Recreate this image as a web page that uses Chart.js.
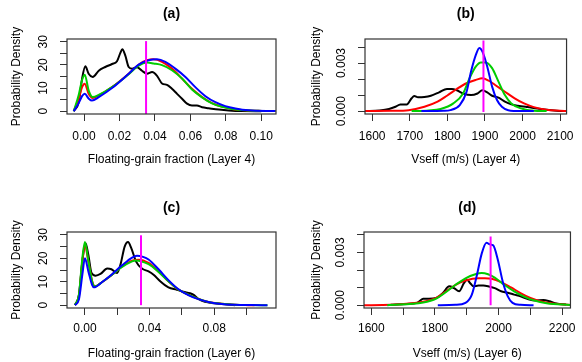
<!DOCTYPE html>
<html>
<head>
<meta charset="utf-8">
<script src="https://cdn.jsdelivr.net/npm/chart.js@4.4.0/dist/chart.umd.min.js"></script>
<style>
body { margin: 0; background: #fff; }
#wrap { position: relative; width: 582px; height: 362px; overflow: hidden; }
#wrap canvas { position: absolute; }
</style>
</head>
<body>
<div id="wrap">
  <canvas id="pa" width="291" height="181" style="left:0;top:0"></canvas>
  <canvas id="pb" width="291" height="181" style="left:291px;top:0"></canvas>
  <canvas id="pc" width="291" height="181" style="left:0;top:181px"></canvas>
  <canvas id="pd" width="291" height="181" style="left:291px;top:181px"></canvas>
</div>
<script>
// ---- data: [x, density] ----
const aBlack = [[-0.0058,0],[-0.003,3.9],[-0.0011,14],[0.00075,19.4],[0.0026,16.2],[0.0049,14.8],[0.0083,17.5],[0.012,19.1],[0.0158,20.4],[0.0186,21.6],[0.0205,25.2],[0.0216,26.8],[0.0233,24],[0.0252,19.1],[0.0271,18.4],[0.0299,19],[0.0327,17.5],[0.0355,16.2],[0.0384,16.9],[0.0412,15.3],[0.044,12],[0.0468,11.4],[0.0496,9.7],[0.0525,7.5],[0.0553,5.4],[0.0581,3.3],[0.0609,2.5],[0.0637,2.5],[0.0666,1.7],[0.0703,1.3],[0.076,0.7],[0.0816,0.3],[0.0891,0.05],[0.1,0]];
const aRed = [[-0.0058,0],[-0.003,5.4],[-0.0011,10.4],[0.0004,11.9],[0.0026,7.5],[0.0049,5.7],[0.0083,6.8],[0.0158,10.4],[0.0252,16.2],[0.0308,20.1],[0.0355,22],[0.0393,22.4],[0.044,21.3],[0.0496,18.4],[0.0553,14.1],[0.0609,9.7],[0.0666,6.1],[0.0722,3.5],[0.0778,2],[0.0835,1],[0.091,0.4],[0.1004,0.15],[0.108,0.05]];
const aGreen = [[-0.0058,0],[-0.003,7],[-0.0011,13.5],[0.0004,15.8],[0.0026,9],[0.0049,6.1],[0.0083,7],[0.0158,10.4],[0.0252,16],[0.0308,19.7],[0.0355,21],[0.0393,20.6],[0.044,19.9],[0.0496,17.7],[0.0553,14.1],[0.0609,9.4],[0.0666,6],[0.0722,3.4],[0.0778,1.9],[0.0835,1],[0.091,0.4],[0.1004,0.15],[0.108,0.05]];
const aBlue = [[-0.0058,0],[-0.003,3.5],[-0.0011,6.5],[0.0004,7.5],[0.0026,5.5],[0.0045,4.6],[0.0083,6.1],[0.0158,10],[0.0252,16.2],[0.0308,20.1],[0.0364,22],[0.0412,22.4],[0.0459,21.3],[0.0515,18.4],[0.0572,14.8],[0.0628,10.4],[0.0685,6.5],[0.0741,3.9],[0.0797,2.2],[0.0854,1.2],[0.0929,0.4],[0.108,0.05]];
const aTrue = 0.035;

const bBlack = [[1581,0],[1620,0.00004],[1645,0.00013],[1662,0.00027],[1675,0.00042],[1692,0.00042],[1705,0.0008],[1712,0.00094],[1722,0.00086],[1739,0.00088],[1756,0.00096],[1778,0.00117],[1799,0.00138],[1812,0.00138],[1825,0.0013],[1842,0.0011],[1863,0.001],[1880,0.0011],[1893,0.0013],[1906,0.00117],[1919,0.00096],[1936,0.00084],[1953,0.00059],[1970,0.00042],[1987,0.00034],[2013,0.00025],[2039,0.00017],[2064,0.00008],[2090,0.00002],[2117,0]];
const bRed = [[1581,0],[1650,0.00002],[1697,0.00006],[1739,0.00027],[1774,0.00059],[1799,0.00096],[1825,0.00138],[1851,0.00174],[1876,0.00195],[1893,0.00205],[1910,0.0019],[1927,0.00163],[1953,0.00121],[1979,0.0008],[2004,0.00048],[2030,0.00025],[2064,0.00008],[2100,0.00002],[2117,0]];
const bGreen = [[1705,0],[1750,0.00004],[1782,0.00013],[1816,0.00048],[1842,0.0011],[1859,0.00205],[1876,0.00279],[1889,0.00304],[1902,0.00304],[1919,0.00268],[1936,0.00184],[1953,0.001],[1970,0.00048],[1996,0.00017],[2030,0.00003],[2064,0]];
const bBlue = [[1731,0],[1790,0.00002],[1808,0.00006],[1833,0.00038],[1851,0.0012],[1863,0.00247],[1876,0.00352],[1885,0.00394],[1893,0.00373],[1906,0.00279],[1919,0.00153],[1932,0.00069],[1945,0.00027],[1962,0.00006],[1996,0],[2030,0]];
const bTrue = 1896;

const cBlack = [[-0.0062,0],[-0.0037,4.5],[-0.0016,18.7],[0.0004,26.4],[0.0021,21.5],[0.0041,13.7],[0.0066,12.6],[0.0096,13.3],[0.0138,15.6],[0.0164,15.3],[0.0199,13.7],[0.022,17.3],[0.0246,25],[0.0267,26.9],[0.0287,24.3],[0.0316,18.7],[0.0353,15.6],[0.0394,14.4],[0.0425,13],[0.0466,10.2],[0.0517,7.6],[0.0569,6.6],[0.061,5.7],[0.0651,5.1],[0.0671,4.5],[0.0702,2.7],[0.0743,1.4],[0.0805,0.85],[0.0866,0.4],[0.0928,0]];
const cRed = [[-0.0062,0],[-0.0037,3.8],[-0.0016,18.7],[0,25.7],[0.0021,18.7],[0.0045,10.2],[0.0062,8.1],[0.0107,9.9],[0.0168,13],[0.023,16.5],[0.0292,19],[0.0333,19.4],[0.0394,18],[0.0456,14.4],[0.0517,10.2],[0.0579,6.6],[0.064,4.5],[0.0702,2.7],[0.0764,1.4],[0.0846,0.6],[0.0928,0.15],[0.101,0.02],[0.105,0]];
const cGreen = [[-0.0062,0],[-0.0037,4.5],[-0.0016,20],[0,26.9],[0.0021,19],[0.0045,10],[0.0062,8],[0.0107,9.9],[0.0168,13],[0.023,16.3],[0.0292,18.7],[0.0313,19.1],[0.0394,17.5],[0.0456,14.2],[0.0517,10.2],[0.0579,6.6],[0.064,4.5],[0.0702,2.7],[0.0764,1.4],[0.0846,0.6],[0.0928,0.2],[0.103,0.05],[0.113,0]];
const cBlue = [[-0.0062,0],[-0.0037,2.5],[-0.0016,13],[0,20],[0.0021,14.5],[0.0045,8.5],[0.0055,7.6],[0.0107,9.9],[0.0168,13.2],[0.023,17],[0.0292,20.3],[0.0322,21.1],[0.036,20.6],[0.0394,19.5],[0.0456,15.3],[0.0517,10.7],[0.0579,6.8],[0.064,4.3],[0.0702,2.6],[0.0764,1.4],[0.0846,0.5],[0.0928,0.15],[0.103,0.03],[0.113,0]];
const cTrue = 0.0347;

const dBlack = [[1661,0.00002],[1712,0.00007],[1743,0.00013],[1763,0.00036],[1779,0.00037],[1804,0.00041],[1825,0.00069],[1845,0.00107],[1860,0.00097],[1876,0.00079],[1891,0.00125],[1901,0.00144],[1911,0.00125],[1921,0.00107],[1937,0.00112],[1952,0.00112],[1967,0.00108],[1988,0.00097],[2008,0.00079],[2029,0.00071],[2049,0.0006],[2069,0.0005],[2090,0.00036],[2115,0.00026],[2141,0.0003],[2161,0.00022],[2182,0.00009],[2212,0.00004]];
const dRed = [[1577,0],[1661,0.00002],[1763,0.00019],[1804,0.00041],[1835,0.00079],[1865,0.00116],[1896,0.0014],[1937,0.00153],[1957,0.00153],[1978,0.0015],[2008,0.00131],[2039,0.00101],[2069,0.00069],[2100,0.00041],[2131,0.00022],[2171,0.00009],[2226,0.00001]];
const dGreen = [[1650,0],[1763,0.00015],[1804,0.00037],[1835,0.00075],[1865,0.00116],[1896,0.00153],[1927,0.00176],[1947,0.00183],[1967,0.00176],[1988,0.00157],[2018,0.00116],[2049,0.00079],[2080,0.00049],[2110,0.00028],[2151,0.00011],[2226,0.00001]];
const dBlue = [[1809,0],[1865,0.00002],[1896,0.00013],[1916,0.0006],[1932,0.00172],[1947,0.00293],[1962,0.00355],[1972,0.00346],[1983,0.0034],[1998,0.00256],[2013,0.00135],[2029,0.0005],[2044,0.00013],[2069,0.00002],[2110,0]];
const dTrue = 1975;

// tick labels shown (others are tick marks only)
const aXLabels = [0, 0.02, 0.04, 0.06, 0.08, 0.10];
const cXLabels = [0, 0.04, 0.08];
const bXLabels = [1600, 1700, 1800, 1900, 2000, 2100];
const dXLabels = [1600, 1800, 2000, 2200];
const fracYLabels = [0, 10, 20, 30];
const vsYLabels = [0, 0.003];

Chart.defaults.font.family = '"Liberation Sans", Arial, Helvetica, sans-serif';
Chart.defaults.font.size = 12;
Chart.defaults.color = '#000';

const axisCol = '#333';

function toXY(arr) {
  return arr.map(function (p) { return { x: p[0], y: p[1] }; });
}

function hasVal(list, v) {
  return list.some(function (l) { return Math.abs(l - v) < 1e-9; });
}

// R-style rotated y tick labels and the plot box
const rStyle = {
  id: 'rStyle',
  afterDatasetsDraw(chart) {
    const a = chart.chartArea, ctx = chart.ctx;
    ctx.save();
    ctx.strokeStyle = axisCol;
    ctx.lineWidth = 1.2;
    ctx.strokeRect(a.left, a.top, a.right - a.left, a.bottom - a.top);
    ctx.restore();
  },
  afterDraw(chart, args, opts) {
    const s = chart.scales.y, ctx = chart.ctx;
    ctx.save();
    ctx.font = '12px "Liberation Sans", Arial, sans-serif';
    ctx.fillStyle = '#000';
    ctx.textAlign = 'center';
    ctx.textBaseline = 'middle';
    opts.values.forEach(function (v) {
      ctx.save();
      ctx.translate(chart.chartArea.left - 23, s.getPixelForValue(v));
      ctx.rotate(-Math.PI / 2);
      ctx.fillText(v.toFixed(opts.digits), 0, 0);
      ctx.restore();
    });
    ctx.restore();
  }
};

function makePanel(id, p) {
  const line = function (data, col) {
    return { data: toXY(data), borderColor: col, borderWidth: 2, pointRadius: 0,
             cubicInterpolationMode: 'monotone', fill: false };
  };
  new Chart(document.getElementById(id), {
    type: 'line',
    data: {
      datasets: [
        { data: [{ x: p.trueVal, y: p.vLine[0] }, { x: p.trueVal, y: p.vLine[1] }],
          borderColor: '#FF00FF', borderWidth: 2, pointRadius: 0 },
        line(p.blue, '#0000FF'),
        line(p.green, '#00CD00'),
        line(p.red, '#FF0000'),
        line(p.black, '#000000')
      ]
    },
    options: {
      responsive: false,
      animation: false,
      layout: { padding: { left: 0, right: p.padRight, top: 0, bottom: 0 } },
      plugins: {
        legend: { display: false },
        tooltip: { enabled: false },
        title: { display: true, text: p.title, fullSize: false,
                 font: { size: 14, weight: 'bold' }, padding: { top: p.titlePad[0], bottom: p.titlePad[1] } },
        rStyle: { values: p.yLabels, digits: p.yDigits }
      },
      scales: {
        x: {
          type: 'linear', min: p.xMin, max: p.xMax,
          border: { display: false },
          grid: { drawOnChartArea: false, drawTicks: true, tickLength: 7, color: axisCol },
          ticks: { stepSize: p.xStep, includeBounds: false, autoSkip: false, maxRotation: 0, padding: p.xTickPad,
                   callback: function (v) { return hasVal(p.xLabels, v) ? v.toFixed(p.xDigits) : ''; } },
          title: { display: true, text: p.xTitle, padding: { top: 0, bottom: p.xTitlePad } },
          afterFit: function (s) { s.height = p.xH; }
        },
        y: {
          min: p.yMin, max: p.yMax,
          border: { display: false },
          grid: { drawOnChartArea: false, drawTicks: true, tickLength: 7, color: axisCol },
          ticks: { stepSize: p.yStep, includeBounds: false, display: false },
          title: { display: true, text: 'Probability Density', padding: { top: p.yTitlePad, bottom: 0 } },
          afterFit: function (s) { s.width = p.leftW; }
        }
      }
    },
    plugins: [rStyle]
  });
}

makePanel('pa', {
  title: '(a)', xTitle: 'Floating-grain fraction (Layer 4)',
  black: aBlack, red: aRed, green: aGreen, blue: aBlue, trueVal: aTrue, vLine: [-1.2, 30.3],
  xMin: -0.0096, xMax: 0.1083, xStep: 0.02, xLabels: aXLabels, xDigits: 2,
  yMin: -1.2, yMax: 31.2, yStep: 5, yLabels: fracYLabels, yDigits: 0,
  padRight: 15, leftW: 67, titlePad: [5.6, 16.6], xH: 67, xTickPad: 8, xTitlePad: 13.8, yTitlePad: 9.8
});
makePanel('pb', {
  title: '(b)', xTitle: 'Vseff (m/s) (Layer 4)',
  black: bBlack, red: bRed, green: bGreen, blue: bBlue, trueVal: bTrue, vLine: [-0.00005, 0.0044],
  xMin: 1581, xMax: 2117, xStep: 100, xLabels: bXLabels, xDigits: 0,
  yMin: -0.00018, yMax: 0.0045, yStep: 0.001, yLabels: vsYLabels, yDigits: 3,
  padRight: 8, leftW: 74, titlePad: [5.6, 16.6], xH: 67, xTickPad: 8, xTitlePad: 13.8, yTitlePad: 18.8
});
makePanel('pc', {
  title: '(c)', xTitle: 'Floating-grain fraction (Layer 6)',
  black: cBlack, red: cRed, green: cGreen, blue: cBlue, trueVal: cTrue, vLine: [0, 29.8],
  xMin: -0.0111, xMax: 0.1183, xStep: 0.02, xLabels: cXLabels, xDigits: 2,
  yMin: -1.2, yMax: 31.2, yStep: 5, yLabels: fracYLabels, yDigits: 0,
  padRight: 15, leftW: 67, titlePad: [18.6, 15.6], xH: 54, xTickPad: 6, xTitlePad: 1.1, yTitlePad: 9.8
});
makePanel('pd', {
  title: '(d)', xTitle: 'Vseff (m/s) (Layer 6)',
  black: dBlack, red: dRed, green: dGreen, blue: dBlue, trueVal: dTrue, vLine: [0, 0.0039],
  xMin: 1577, xMax: 2226, xStep: 100, xLabels: dXLabels, xDigits: 0,
  yMin: -0.00016, yMax: 0.00416, yStep: 0.001, yLabels: vsYLabels, yDigits: 3,
  padRight: 7, leftW: 73, titlePad: [18.6, 15.6], xH: 54, xTickPad: 6, xTitlePad: 1.1, yTitlePad: 18.8
});
</script>
</body>
</html>
